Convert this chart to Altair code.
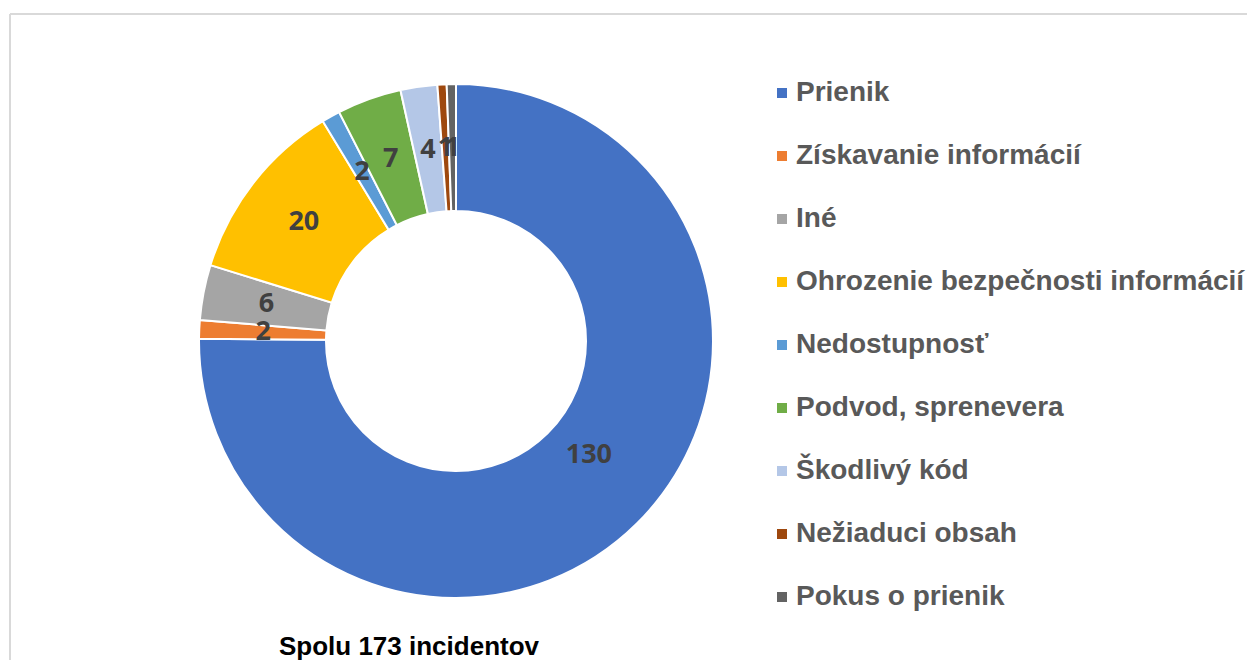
import altair as alt
import pandas as pd

categories = ["Prienik", "Získavanie informácií", "Iné", "Ohrozenie bezpečnosti informácií",
              "Nedostupnosť", "Podvod, sprenevera", "Škodlivý kód", "Nežiaduci obsah", "Pokus o prienik"]
values = [130, 2, 6, 20, 2, 7, 4, 1, 1]
colors = ["#4472C4", "#ED7D31", "#A5A5A5", "#FFC000", "#5B9BD5", "#70AD47", "#B4C7E7", "#9E480E", "#636363"]
total_title = "Spolu 173 incidentov"

df = pd.DataFrame({"kategoria": categories, "pocet": values, "poradie": list(range(len(values)))})
total = sum(values)

W, H = 1239, 652
cx, cy = 448, 333

arcs = alt.Chart(df).mark_arc(outerRadius=257, innerRadius=130, stroke="white", strokeWidth=2).encode(
    theta=alt.Theta("pocet:Q", stack=True, scale=alt.Scale(domain=[0, total])),
    order=alt.Order("poradie:Q"),
    x=alt.value(cx),
    y=alt.value(cy),
    color=alt.Color(
        "kategoria:N",
        scale=alt.Scale(domain=categories, range=colors),
        sort=categories,
        legend=alt.Legend(
            title=None, orient="none", legendX=760, legendY=71,
            symbolType="square", symbolSize=100, symbolStrokeWidth=0,
            labelFont="Liberation Sans", labelFontWeight="bold", labelFontSize=28,
            labelColor="#595959", labelOffset=0, rowPadding=35, labelLimit=600,
        ),
    ),
)

label_base = alt.Chart(df).transform_window(
    cum="sum(pocet)", sort=[alt.SortField("poradie")]
).transform_calculate(
    mid="datum.cum - datum.pocet / 2"
).encode(
    theta=alt.Theta("mid:Q", stack=None, scale=alt.Scale(domain=[0, total])),
    x=alt.value(cx),
    y=alt.value(cy),
    text=alt.Text("pocet:Q"),
)

label_style = dict(font="Open Sans", fontWeight="bold", fontSize=27,
                   color="#404040", align="center", baseline="middle")

labels = label_base.mark_text(radius=193, **label_style).transform_filter("datum.pocet < 100")
big_label = label_base.mark_text(radius=193, dy=-23, dx=-3, **label_style).transform_filter("datum.pocet >= 100")

title_df = pd.DataFrame({"t": [total_title]})
title = alt.Chart(title_df).mark_text(font="Liberation Sans", fontWeight="bold", fontSize=26,
                                      color="#000000", align="center", baseline="middle").encode(
    text="t:N", x=alt.value(401), y=alt.value(639)
)

frame_top = alt.Chart(title_df).mark_rule(color="#D9D9D9", strokeWidth=2).encode(
    x=alt.value(2), x2=alt.value(W), y=alt.value(6)
)
frame_left = alt.Chart(title_df).mark_rule(color="#D9D9D9", strokeWidth=2).encode(
    x=alt.value(2), y=alt.value(6), y2=alt.value(H)
)

chart = alt.layer(frame_top, frame_left, arcs, labels, big_label, title).properties(
    width=W, height=H, autosize=alt.AutoSizeParams(type="none"), padding=0
).configure_view(stroke=None)

chart.save("out.html", embed_options={"renderer": "svg", "actions": False})
